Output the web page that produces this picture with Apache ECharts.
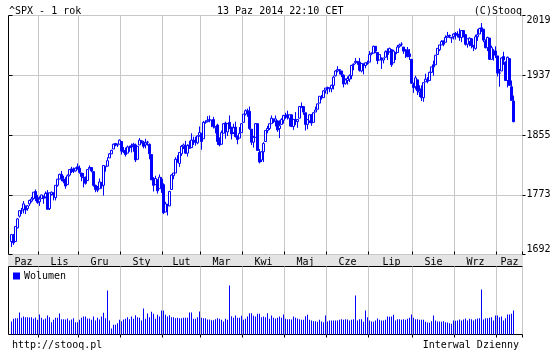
<!DOCTYPE html>
<html><head><meta charset="utf-8">
<script src="https://cdn.jsdelivr.net/npm/echarts@6/dist/echarts.min.js"></script>
<style>html,body{margin:0;padding:0;background:#fff}#c{width:560px;height:350px}</style>
</head><body><div id="c"></div>
<script>
const monthLabels = ['Paz','Lis','Gru','Sty','Lut','Mar','Kwi','Maj','Cze','Lip','Sie','Wrz','Paz'];
const monthDays = [14,20,21,21,19,21,21,21,21,22,21,21,9];
const priceTicks = ['1692','1773','1855','1937','2019'];

const opens = [
1700,1709,1700,1720,1737,1745,1747,1752,1748,1755,1759,1763,1773,1764,
1758,1763,1765,1765,1771,1748,1769,1770,1764,1782,1791,1798,1791,1790,1783,1797,1806,1803,1803,1809,
1807,1800,1794,1792,1789,1806,1808,1802,1782,1777,1777,1786,1782,1809,1810,1822,1828,1835,1843,1841,1842,
1846,1833,1833,1829,1838,1840,1841,1841,1820,1841,1847,1845,1841,1845,1842,1827,1792,1783,1790,1777,1791,
1783,1743,1753,1752,1776,1796,1800,1820,1814,1828,1839,1840,1829,1841,1837,1848,1846,1844,1855,
1858,1850,1874,1875,1878,1877,1878,1866,1870,1846,1842,1858,1873,1860,1874,1867,1859,1867,1853,1851,1859,
1874,1886,1891,1890,1864,1845,1852,1872,1830,1819,1831,1846,1862,1865,1872,1879,1876,1876,1865,1871,1877,
1884,1885,1880,1885,1868,1878,1875,1880,1897,1897,1888,1871,1876,1885,1874,1889,1893,1902,1911,1910,1921,
1924,1923,1923,1928,1942,1949,1950,1949,1943,1931,1935,1937,1942,1958,1961,1962,1962,1949,1959,1957,1961,
1962,1974,1975,1985,1976,1965,1966,1965,1969,1978,1977,1980,1961,1976,1976,1985,1988,1984,1978,1980,1974,1966,
1929,1926,1936,1918,1923,1910,1933,1936,1935,1947,1958,1958,1973,1980,1987,1993,1991,1998,2001,1998,1999,
2004,2003,2001,1998,2008,2002,1988,1992,1996,1986,1982,1999,2003,2012,2010,1992,1983,1997,1966,1978,1978,
1971,1946,1949,1970,1962,1935,1967,1926,1905];
const highs = [
1711,1711,1722,1734,1745,1749,1759,1752,1753,1761,1765,1772,1776,1768,
1766,1768,1767,1773,1775,1771,1773,1772,1782,1791,1799,1803,1796,1794,1798,1805,1809,1808,1808,1814,
1811,1800,1800,1795,1805,1811,1808,1803,1783,1781,1792,1787,1811,1810,1823,1829,1834,1843,1844,1843,1849,
1846,1838,1837,1840,1840,1843,1844,1843,1839,1851,1848,1847,1850,1847,1843,1827,1794,1796,1790,1798,1794,
1785,1758,1755,1774,1798,1800,1823,1826,1830,1841,1843,1847,1842,1847,1858,1853,1853,1855,1868,
1858,1876,1877,1883,1884,1877,1882,1868,1872,1852,1862,1873,1875,1873,1884,1867,1872,1875,1855,1867,1873,
1886,1893,1894,1897,1864,1854,1873,1872,1835,1832,1845,1862,1869,1872,1884,1879,1884,1877,1877,1880,1885,
1888,1891,1885,1885,1879,1889,1879,1897,1903,1898,1888,1878,1886,1886,1889,1897,1901,1912,1914,1921,1924,
1926,1925,1929,1942,1950,1956,1951,1949,1944,1938,1941,1944,1958,1960,1968,1963,1968,1960,1960,1961,1964,
1978,1976,1986,1985,1976,1973,1969,1968,1979,1982,1983,1981,1980,1976,1987,1989,1991,1984,1981,1984,1981,1966,
1932,1942,1936,1928,1928,1932,1945,1940,1948,1955,1964,1972,1982,1987,1994,1993,2001,2006,2002,1998,2004,
2006,2007,2011,2008,2008,2003,1996,1998,1997,1987,2002,2010,2012,2019,2010,1995,1999,1997,1986,1981,1985,
1971,1952,1969,1977,1963,1970,1968,1935,1913];
const lows = [
1692,1695,1700,1719,1735,1740,1741,1740,1745,1752,1757,1761,1759,1755,
1752,1762,1755,1763,1747,1746,1767,1760,1760,1780,1791,1788,1785,1777,1783,1795,1800,1800,1802,1805,
1799,1788,1779,1783,1789,1806,1801,1780,1772,1772,1777,1777,1767,1802,1810,1822,1828,1835,1839,1838,1842,
1827,1829,1824,1829,1831,1830,1831,1816,1820,1841,1843,1836,1836,1840,1820,1790,1773,1783,1770,1777,1771,
1740,1743,1738,1752,1776,1791,1800,1815,1809,1825,1835,1828,1824,1836,1837,1841,1840,1842,1853,
1834,1850,1872,1874,1874,1867,1865,1858,1841,1839,1842,1858,1850,1854,1864,1849,1857,1852,1842,1851,1859,
1874,1884,1882,1863,1841,1837,1852,1833,1814,1816,1816,1846,1858,1863,1872,1873,1868,1860,1851,1871,1872,
1879,1878,1868,1867,1863,1870,1866,1880,1895,1885,1862,1864,1873,1869,1874,1889,1893,1902,1907,1910,1916,
1915,1918,1918,1922,1941,1947,1944,1940,1925,1929,1929,1933,1937,1950,1959,1958,1948,1947,1944,1953,1958,
1962,1972,1975,1975,1959,1965,1952,1960,1969,1965,1976,1955,1961,1965,1976,1983,1985,1974,1968,1969,1965,1930,
1917,1922,1914,1911,1905,1904,1933,1931,1935,1946,1942,1958,1973,1978,1987,1985,1991,1998,1997,1990,1995,
1995,1998,1993,1991,1998,1986,1983,1985,1982,1978,1980,1993,2003,2006,1991,1982,1978,1965,1966,1964,1968,
1941,1926,1949,1958,1935,1925,1927,1906,1874];
const closes = [
1710,1698,1722,1733,1745,1745,1755,1746,1752,1760,1762,1772,1763,1757,
1762,1768,1763,1770,1747,1771,1772,1768,1782,1791,1798,1792,1788,1781,1796,1805,1802,1803,1807,1806,
1801,1795,1793,1785,1805,1808,1803,1782,1776,1775,1787,1781,1811,1810,1818,1828,1833,1842,1841,1841,1848,
1832,1831,1827,1838,1837,1838,1842,1819,1839,1848,1846,1839,1844,1845,1828,1790,1782,1792,1774,1794,1783,
1742,1755,1752,1773,1797,1800,1820,1819,1830,1839,1841,1829,1840,1836,1848,1845,1845,1854,1859,
1846,1874,1874,1877,1878,1877,1868,1868,1846,1841,1859,1872,1861,1872,1867,1857,1866,1853,1849,1858,1872,
1886,1891,1889,1865,1845,1852,1872,1833,1816,1831,1843,1862,1865,1872,1880,1875,1879,1863,1869,1878,1884,
1884,1881,1885,1868,1878,1876,1878,1897,1897,1889,1871,1878,1885,1873,1888,1892,1901,1912,1910,1920,1924,
1925,1924,1928,1940,1949,1951,1951,1944,1930,1936,1938,1942,1957,1959,1963,1963,1950,1960,1957,1961,1960,
1973,1975,1985,1978,1964,1973,1965,1968,1977,1973,1982,1958,1978,1974,1984,1987,1988,1978,1979,1970,1970,1931,
1925,1939,1920,1920,1910,1932,1937,1934,1947,1955,1955,1972,1982,1987,1992,1988,1998,2000,2000,1997,2003,
2002,2001,1998,2008,2002,1988,1996,1997,1986,1984,1999,2002,2011,2010,1994,1983,1998,1966,1983,1978,1972,
1946,1946,1968,1965,1935,1969,1928,1906,1875];
const volumes = [
390,470,490,490,660,500,540,520,520,510,520,470,510,440,600,500,450,480,570,520,
370,440,500,500,630,460,460,450,480,420,450,490,370,370,440,500,540,540,480,480,
440,540,420,500,450,540,650,490,1320,420,180,290,290,340,440,400,450,470,520,460,
540,470,580,520,500,420,780,470,630,520,680,620,470,590,540,720,720,590,540,580,
520,520,490,500,490,490,500,500,500,660,660,470,470,520,690,500,490,490,450,450,
430,430,460,490,470,440,390,470,440,1470,550,500,570,500,500,560,440,470,540,640,
640,560,540,620,620,520,540,520,640,470,570,500,480,500,540,
500,600,470,460,460,450,540,500,480,460,440,440,550,590,440,420,400,400,380,440,
390,370,570,390,420,420,420,420,420,440,460,440,460,450,420,440,460,1170,420,460,
460,380,720,520,420,390,380,420,480,440,420,420,440,540,530,540,590,420,460,460,
440,460,440,470,500,600,500,460,460,440,440,440,380,360,350,400,570,420,390,390,
380,400,370,360,340,320,420,410,420,450,420,450,480,420,470,460,420,460,480,490,
1350,450,490,490,500,520,420,570,570,520,540,420,490,600,600,620,720];

// slot layout: one empty slot before, four after
const LEAD = 1, TRAIL = 4;
const nData = closes.length;
const nSlots = LEAD + nData + TRAIL;
const cats = [], labelAt = {}, boundaries = new Set();
for (let i = 0; i < nSlots; i++) cats.push(String(i));
let start = LEAD;
monthDays.forEach((d, k) => {
  let s = k === 0 ? 0 : start;
  let span = (k === 0 ? LEAD : 0) + d + (k === monthDays.length - 1 ? TRAIL : 0);
  labelAt[s + Math.floor(span / 2)] = monthLabels[k];
  if (k > 0) boundaries.add(start);
  start += d;
});
const candle = [], vol = [];
for (let i = 0; i < nSlots; i++) {
  const d = i - LEAD;
  if (d >= 0 && d < nData) {
    candle.push([opens[d], closes[d], lows[d], highs[d]]);
    vol.push(volumes[d]);
  } else {
    candle.push(['-', '-', '-', '-']);
    vol.push('-');
  }
}
const isB = (idx) => boundaries.has(idx);
const FONT = 'DejaVu Sans Mono';
const BLUE = '#0000ff';
const GRIDC = '#c8c8c8';
const TS = {fontFamily: FONT, fontSize: 10, fontWeight: 'normal', color: '#000'};

const chart = echarts.init(document.getElementById('c'), null, {renderer: 'canvas'});
chart.setOption({
  animation: false,
  backgroundColor: '#ffffff',
  textStyle: {fontFamily: FONT, fontSize: 10, color: '#000'},
  title: [
    {text: '^SPX - 1 rok', left: 4, top: 1, textStyle: TS},
    {text: '13 Paz 2014 22:10 CET', left: 212, top: 1, textStyle: TS},
    {text: '(C)Stooq', right: 33, top: 1, textStyle: TS},
    {text: 'http://stooq.pl', left: 7, top: 335, textStyle: TS},
    {text: 'Interwal Dzienny', right: 36, top: 335, textStyle: TS}
  ],
  legend: {
    data: ['Wolumen'], left: 13, top: 271, icon: 'rect', itemWidth: 7, itemHeight: 7, itemGap: 4,
    padding: 0, textStyle: {fontFamily: FONT, fontSize: 10, color: '#000', padding: [0,0,0,-1]}
  },
  graphic: [{
    type: 'rect', z: -1, shape: {x: 8, y: 254, width: 515, height: 13},
    style: {fill: '#e4e4e4', stroke: null}
  }],
  grid: [
    {left: 8.5, top: 15.5, width: 514, height: 239, show: true, borderColor: '#000', borderWidth: 1, backgroundColor: '#fff'},
    {left: 8.5, top: 266.5, width: 514, height: 68, show: true, borderColor: '#000', borderWidth: 1, backgroundColor: '#fff'}
  ],
  xAxis: [
    {type: 'category', gridIndex: 0, data: cats, boundaryGap: true, position: 'bottom',
     axisLine: {show: false},
     axisTick: {show: true, inside: true, length: 3, interval: isB, lineStyle: {color: '#000'}},
     splitLine: {show: true, interval: isB, lineStyle: {color: GRIDC, width: 1}},
     axisLabel: {show: true, interval: 0, margin: 3, fontFamily: FONT, fontSize: 10, color: '#000',
       formatter: (v, idx) => labelAt[idx] || ''}},
    {type: 'category', gridIndex: 1, data: cats, boundaryGap: true, position: 'top',
     axisLine: {show: false},
     axisTick: {show: true, inside: true, length: 3, interval: isB, lineStyle: {color: '#000'}},
     splitLine: {show: true, interval: isB, lineStyle: {color: GRIDC, width: 1}},
     axisLabel: {show: false}}
  ],
  yAxis: [
    {type: 'value', gridIndex: 0, min: 1681, max: 2030, show: false, splitLine: {show: false}},
    {type: 'value', gridIndex: 0, min: 0, max: 4, interval: 1, position: 'right',
     axisLine: {show: false},
     axisTick: {show: true, inside: false, length: 3, lineStyle: {color: '#000'}},
     splitLine: {show: true, lineStyle: {color: GRIDC, width: 1}},
     axisLabel: {show: true, margin: 4, fontFamily: FONT, fontSize: 10, color: '#000',
       verticalAlignMaxLabel: 'top', verticalAlignMinLabel: 'bottom',
       formatter: (v) => priceTicks[Math.round(v)]}},
    {type: 'value', gridIndex: 0, min: 0, max: 4, interval: 1, position: 'left',
     axisLine: {show: false}, axisLabel: {show: false}, splitLine: {show: false},
     axisTick: {show: true, inside: true, length: 4, lineStyle: {color: '#000'}}},
    {type: 'value', gridIndex: 1, min: 0, max: 2040, show: false, splitLine: {show: false}}
  ],
  series: [
    {name: 'SPX', type: 'candlestick', xAxisIndex: 0, yAxisIndex: 0, data: candle, barWidth: 2,
     itemStyle: {color: '#ffffff', color0: BLUE, borderColor: BLUE, borderColor0: BLUE, borderWidth: 1}},
    {name: 'Wolumen', type: 'bar', xAxisIndex: 1, yAxisIndex: 3, data: vol, barWidth: 1,
     itemStyle: {color: BLUE}}
  ]
});
</script></body></html>
